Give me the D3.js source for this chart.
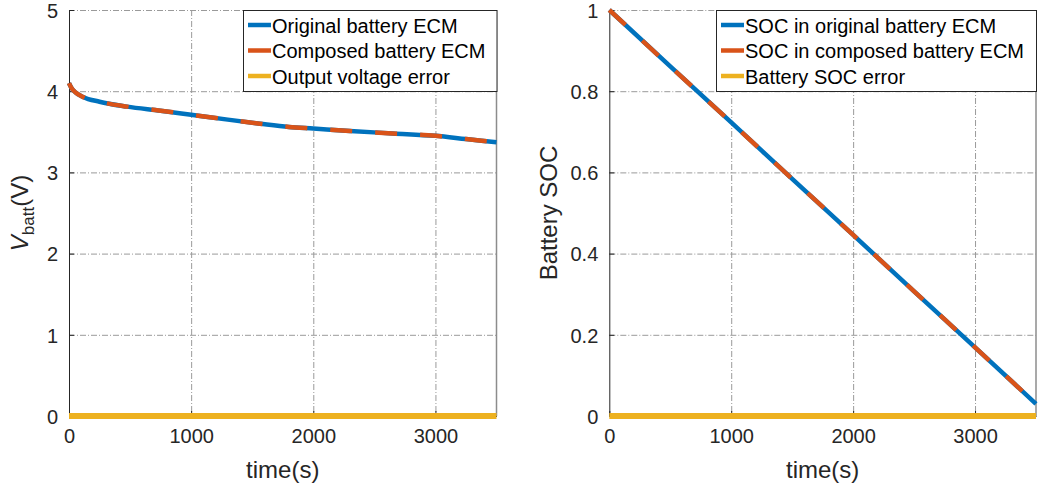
<!DOCTYPE html>
<html>
<head>
<meta charset="utf-8">
<script src="https://cdn.jsdelivr.net/npm/d3@7"></script>
<style>
  body { margin: 0; background: #fff; }
  svg { display: block; font-family: "Liberation Sans", Arial, sans-serif; }
  .tick-label { font-size: 20px; fill: #262626; }
  .axis-label { font-size: 24px; fill: #262626; }
  .legend-text { font-size: 20px; fill: #000; }
</style>
</head>
<body>
<svg id="chart" width="1039" height="489"></svg>
<script>
// ---- data ----
const timeV = [0, 20, 50, 115, 250, 475, 750, 1000, 1300, 1565, 1800, 2000, 2300, 2650, 3000, 3250, 3500];
const voltOriginal = [4.10, 4.04, 3.99, 3.93, 3.87, 3.81, 3.76, 3.71, 3.65, 3.60, 3.56, 3.54, 3.51, 3.48, 3.45, 3.41, 3.37];
const voltComposed = [4.10, 4.04, 3.99, 3.93, 3.87, 3.81, 3.76, 3.71, 3.65, 3.60, 3.56, 3.54, 3.51, 3.48, 3.45, 3.41, 3.37];
const voltError = [0, 0, 0, 0, 0, 0, 0, 0, 0, 0, 0, 0, 0, 0, 0, 0, 0];

const timeSOC = [0, 500, 1000, 1500, 2000, 2500, 3000, 3500];
const socOriginal = [1.0, 0.861, 0.723, 0.584, 0.446, 0.307, 0.169, 0.030];
const socComposed = [1.0, 0.861, 0.723, 0.584, 0.446, 0.307, 0.169, 0.030];
const socError = [0, 0, 0, 0, 0, 0, 0, 0];

const xTicks = [0, 1000, 2000, 3000];
const vTicks = [0, 1, 2, 3, 4, 5];
const socTicks = [0, 0.2, 0.4, 0.6, 0.8, 1];

const legendV = ['Original battery ECM', 'Composed battery ECM', 'Output voltage error'];
const legendSOC = ['SOC in original battery ECM', 'SOC in composed battery ECM', 'Battery SOC error'];

const colours = ['#0072BD', '#D95319', '#EDB120'];

const svg = d3.select('#chart');

function drawPanel(opt) {
    const x = d3.scaleLinear().domain([0, 3500]).range([opt.left, opt.right]);
    const y = d3.scaleLinear().domain(opt.yDomain).range([opt.bottom, opt.top]);
    const g = svg.append('g');

    // grid (dash-dot, MATLAB style)
    const grid = g.append('g').attr('stroke', '#9a9a9a').attr('stroke-width', 1)
        .attr('stroke-dasharray', '6,2,1,2');
    grid.selectAll('line.gx').data(xTicks.filter(d => d > 0)).join('line')
        .attr('class', 'gx')
        .attr('x1', d => x(d) + 0.5).attr('x2', d => x(d) + 0.5)
        .attr('y1', opt.top).attr('y2', opt.bottom);
    grid.selectAll('line.gy').data(opt.yTicks.filter(d => d > opt.yDomain[0])).join('line')
        .attr('class', 'gy')
        .attr('x1', opt.left).attr('x2', opt.right)
        .attr('y1', d => y(d) + 0.5).attr('y2', d => y(d) + 0.5);

    // right edge
    g.append('line').attr('x1', opt.right).attr('x2', opt.right)
        .attr('y1', opt.top).attr('y2', opt.bottom)
        .attr('stroke', '#8c8c8c').attr('stroke-width', 1.5);

    // axes with inward ticks
    const xAxis = d3.axisBottom(x).tickValues(xTicks).tickSize(-5).tickSizeOuter(0)
        .tickPadding(12).tickFormat(d3.format('d'));
    const yAxis = d3.axisLeft(y).tickValues(opt.yTicks).tickSize(-5).tickSizeOuter(0)
        .tickPadding(11).tickFormat(d3.format('~g'));

    const xg = g.append('g').attr('transform', `translate(0,${opt.bottom})`).call(xAxis);
    const yg = g.append('g').attr('transform', `translate(${opt.left},0)`).call(yAxis);
    [xg, yg].forEach(a => {
        a.select('.domain').attr('stroke', '#262626').attr('stroke-width', 1);
        a.selectAll('.tick line').attr('stroke', '#262626');
        a.selectAll('.tick text').attr('class', 'tick-label').attr('font-size', null)
            .attr('font-family', null);
    });
    xg.selectAll('.tick text').attr('dy', '0.75em');
    yg.selectAll('.tick text').attr('dy', '0.36em');

    // series
    const line = d3.line().x((d, i) => x(opt.time[i])).y(d => y(d)).curve(d3.curveMonotoneX);
    const plot = g.append('g');
    plot.append('path').datum(opt.error).attr('d', line)
        .attr('fill', 'none').attr('stroke', colours[2]).attr('stroke-width', 6);
    plot.append('path').datum(opt.original).attr('d', line)
        .attr('fill', 'none').attr('stroke', colours[0]).attr('stroke-width', 4.5);
    plot.append('path').datum(opt.composed).attr('d', line)
        .attr('fill', 'none').attr('stroke', colours[1]).attr('stroke-width', 4.5)
        .attr('stroke-dasharray', '22,23');

    // axis labels
    g.append('text').attr('class', 'axis-label')
        .attr('x', (opt.left + opt.right) / 2).attr('y', 478)
        .attr('text-anchor', 'middle').text('time(s)');
    const yl = g.append('text').attr('class', 'axis-label')
        .attr('transform', `translate(${opt.yLabelX},${(opt.top + opt.bottom) / 2}) rotate(-90)`)
        .attr('text-anchor', 'middle');
    opt.yLabel(yl);

    // legend
    const lg = g.append('g');
    lg.append('rect').attr('x', opt.legendX + 0.5).attr('y', opt.top + 0.5)
        .attr('width', opt.right - opt.legendX).attr('height', 81)
        .attr('fill', '#fff').attr('stroke', '#262626').attr('stroke-width', 1);
    const rows = lg.selectAll('g.row').data(opt.legend).join('g').attr('class', 'row')
        .attr('transform', (d, i) => `translate(${opt.legendX},${opt.top + 15 + i * 25.5})`);
    rows.append('line').attr('x1', 5).attr('x2', 28).attr('y1', 0).attr('y2', 0)
        .attr('stroke', (d, i) => colours[i]).attr('stroke-width', 4.5);
    rows.append('text').attr('class', 'legend-text').attr('x', 29).attr('y', 7.5).text(d => d);
}

drawPanel({
    left: 69, right: 496.5, top: 10, bottom: 416,
    yDomain: [0, 5], yTicks: vTicks,
    time: timeV, original: voltOriginal, composed: voltComposed, error: voltError,
    legend: legendV, legendX: 243, yLabelX: 28,
    yLabel: t => {
        t.append('tspan').attr('font-style', 'italic').text('V');
        t.append('tspan').attr('font-size', '17px').attr('dy', 6).text('batt');
        t.append('tspan').attr('dy', -6).text('(V)');
    }
});

drawPanel({
    left: 609.3, right: 1036, top: 10, bottom: 416,
    yDomain: [0, 1], yTicks: socTicks,
    time: timeSOC, original: socOriginal, composed: socComposed, error: socError,
    legend: legendSOC, legendX: 716, yLabelX: 557,
    yLabel: t => t.text('Battery SOC')
});
</script>
</body>
</html>
